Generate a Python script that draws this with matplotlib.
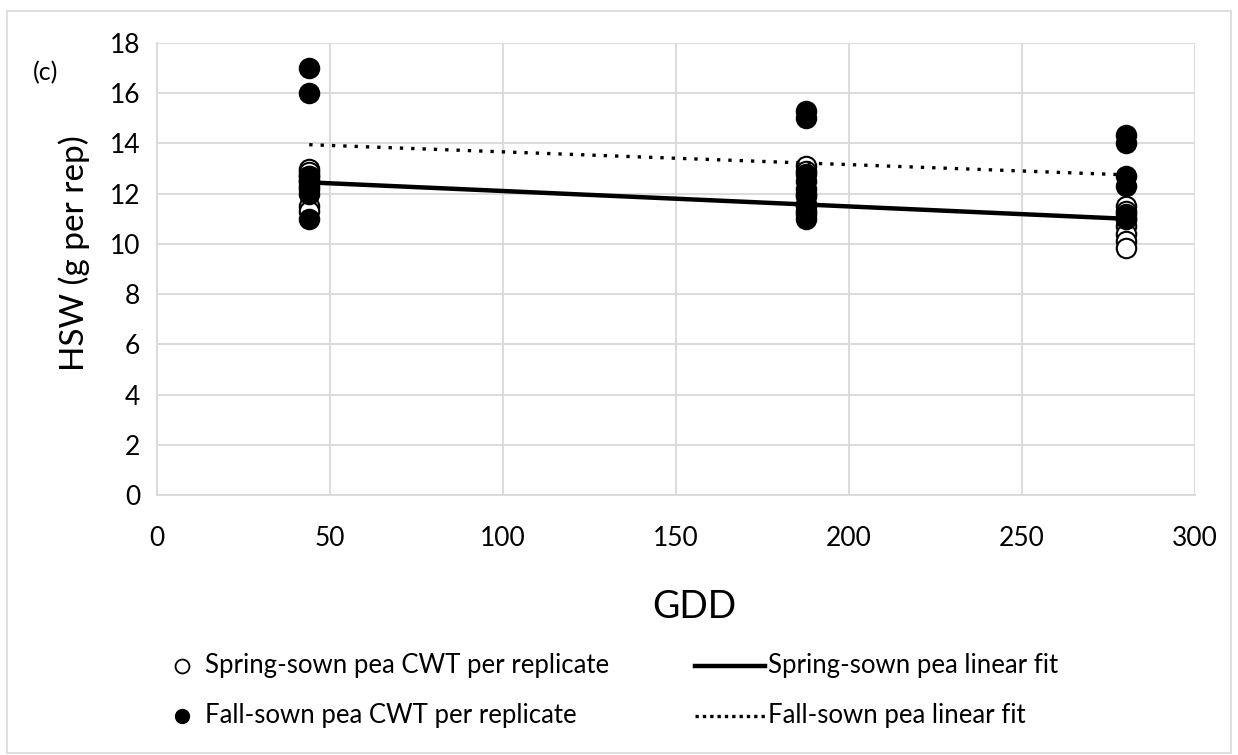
import numpy as np
import matplotlib
matplotlib.use("Agg")
import matplotlib.pyplot as plt
from matplotlib.lines import Line2D
from matplotlib.patches import Rectangle

plt.rcParams['font.family'] = ['Lato', 'DejaVu Sans']

# GDD at each sampling time
gdd = [44, 187.5, 280]

# HSW per replicate (g per rep)
spring_44 = [13.0, 12.85, 12.7, 12.5, 12.3, 11.5, 11.3]
spring_187 = [13.1, 12.9, 12.0, 11.6, 11.3, 11.2]
spring_280 = [11.5, 11.3, 11.0, 10.7, 10.4, 10.1, 9.85]

fall_44 = [17.0, 16.0, 12.7, 12.5, 12.2, 12.0, 11.0]
fall_187 = [15.3, 15.0, 12.8, 12.5, 12.2, 11.9, 11.5, 11.0]
fall_280 = [14.35, 14.0, 12.7, 12.3, 11.2, 11.0]

# linear fits, evaluated at the first and last GDD
fit_x = [44, 280]
spring_fit = [12.45, 11.0]
fall_fit = [13.95, 12.75]

W, H = 1238, 755
fig = plt.figure(figsize=(W/100, H/100), dpi=100)
ax = fig.add_axes([157/W, 1 - 495/H, 1038/W, 452/H])

def scatter_group(values, **kw):
	for x, ys in zip(gdd, values):
		ax.plot([x]*len(ys), ys, linestyle='none', marker='o', markersize=14, **kw)

scatter_group([spring_44, spring_187, spring_280], markerfacecolor='white', markeredgecolor='black', markeredgewidth=1.5, zorder=3)
scatter_group([fall_44, fall_187, fall_280], markerfacecolor='black', markeredgecolor='black', markeredgewidth=1.5, zorder=4)

ax.plot(fit_x, spring_fit, color='black', linewidth=3.2, solid_capstyle='butt', zorder=5)
ax.plot(fit_x, fall_fit, color='black', linewidth=2.4, linestyle=(0, (1, 2.4)), zorder=5)

ax.set_xlim(0, 300)
ax.set_ylim(0, 18)
ax.set_xticks(np.arange(0, 301, 50))
ax.set_yticks(np.arange(0, 19, 2))
ax.grid(True, color='#d9d9d9', linewidth=1.3)
ax.set_axisbelow(True)
for s in ['top', 'right']:
	ax.spines[s].set_visible(False)
for s in ['left', 'bottom']:
	ax.spines[s].set_color('#d9d9d9')
	ax.spines[s].set_linewidth(1.3)
ax.tick_params(length=0, labelsize=19, pad=12)
ax.tick_params(axis='x', pad=22)
ax.set_xlabel('GDD', fontsize=27, va='center')
ax.xaxis.set_label_coords((694 - 157)/1038, (495 - 607)/452)
ax.set_ylabel('HSW (g per rep)', fontsize=24)
ax.yaxis.set_label_coords((90 - 157)/1038, (495 - 253)/452)

fig.text(33/W, 1 - 73/H, '(c)', fontsize=18, va='center')

# legend drawn in figure pixels: two columns, two rows
def fy(py):
	return 1 - py/H

rows = [666, 716]
fig.add_artist(Line2D([182/W], [fy(rows[0])], transform=fig.transFigure, linestyle='none', marker='o',
	markersize=10, markerfacecolor='white', markeredgecolor='black', markeredgewidth=1.3))
fig.add_artist(Line2D([182/W], [fy(rows[1])], transform=fig.transFigure, linestyle='none', marker='o',
	markersize=10, markerfacecolor='black', markeredgecolor='black'))
fig.add_artist(Line2D([695/W, 765/W], [fy(rows[0])]*2, transform=fig.transFigure, color='black', linewidth=3.2))
fig.add_artist(Line2D([695/W, 765/W], [fy(rows[1])]*2, transform=fig.transFigure, color='black',
	linewidth=2.4, linestyle=(0, (1, 1.2))))

legend_font = 18.5
fig.text(205/W, fy(rows[0]), 'Spring-sown pea CWT per replicate', fontsize=legend_font, va='center')
fig.text(205/W, fy(rows[1]), 'Fall-sown pea CWT per replicate', fontsize=legend_font, va='center')
fig.text(768/W, fy(rows[0]), 'Spring-sown pea linear fit', fontsize=legend_font, va='center')
fig.text(768/W, fy(rows[1]), 'Fall-sown pea linear fit', fontsize=legend_font, va='center')

# outer chart border
fig.patches.append(Rectangle((7/W, 0.002), 1 - 14/W, 1 - 11/H - 0.002, transform=fig.transFigure,
	fill=False, edgecolor='#d9d9d9', linewidth=1.2))

fig.savefig('out.png', dpi=100)
